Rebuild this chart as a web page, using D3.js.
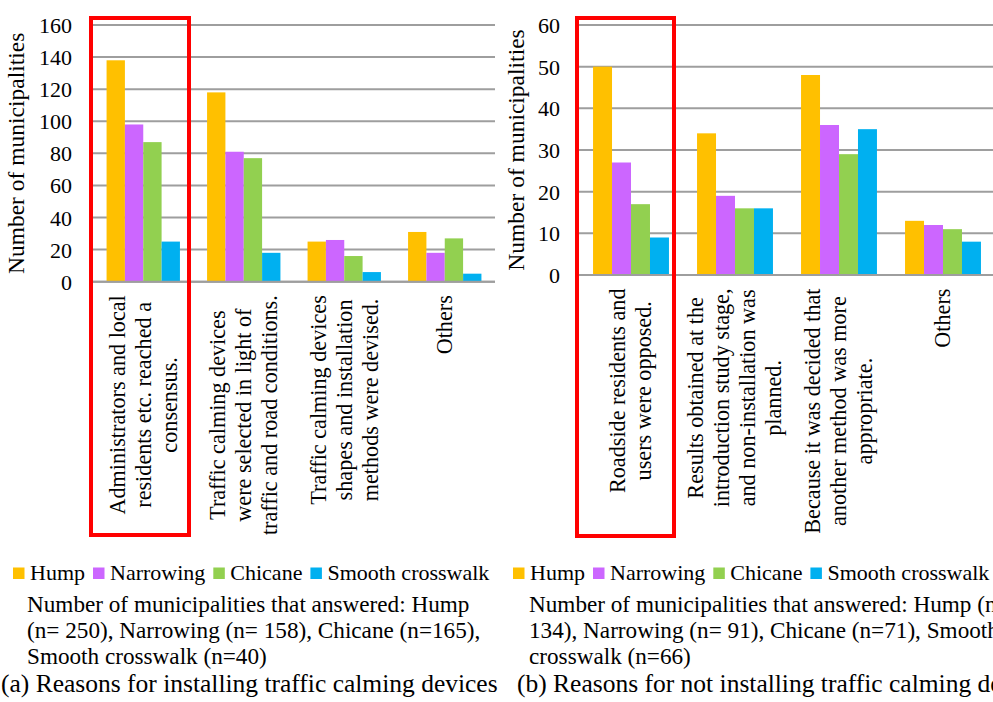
<!DOCTYPE html>
<html>
<head>
<meta charset="utf-8">
<script src="https://cdn.jsdelivr.net/npm/d3@7"></script>
<style>
  html, body { margin: 0; padding: 0; background: #fff; overflow: hidden; }
  svg { display: block; font-family: "Liberation Serif", "Times New Roman", serif; }
</style>
</head>
<body>
<svg id="chart" width="993" height="702"></svg>
<script>
// Device types (series) and their fill colours
const series = ["Hump", "Narrowing", "Chicane", "Smooth crosswalk"];
const seriesColors = ["#FFC000", "#CC66FF", "#92D050", "#00B0F0"];

// (a) Reasons for installing traffic calming devices
const categoriesA = [
  ["Administrators and local", "residents etc. reached a", "consensus."],
  ["Traffic calming devices", "were selected in light of", "traffic and road conditions."],
  ["Traffic calming devices", "shapes and installation", "methods were devised."],
  ["Others"]
];
const humpA      = [138, 118, 25, 31];
const narrowingA = [98, 81, 26, 18];
const chicaneA   = [87, 77, 16, 27];
const smoothA    = [25, 18, 6, 5];
const ticksA     = [0, 20, 40, 60, 80, 100, 120, 140, 160];
const notesA = [
  "Number of municipalities that answered: Hump",
  "(n= 250), Narrowing (n= 158), Chicane (n=165),",
  "Smooth crosswalk (n=40)"
];
const captionA = "(a) Reasons for installing traffic calming devices";

// (b) Reasons for not installing traffic calming devices
const categoriesB = [
  ["Roadside residents and", "users were opposed."],
  ["Results obtained at the", "introduction study stage,", "and non-installation was", "planned."],
  ["Because it was decided that", "another method was more", "appropriate."],
  ["Others"]
];
const humpB      = [50, 34, 48, 13];
const narrowingB = [27, 19, 36, 12];
const chicaneB   = [17, 16, 29, 11];
const smoothB    = [9, 16, 35, 8];
const ticksB     = [0, 10, 20, 30, 40, 50, 60];
const notesB = [
  "Number of municipalities that answered: Hump (n= 134),",
  "134), Narrowing (n= 91), Chicane (n=71), Smooth",
  "crosswalk (n=66)"
];
notesB[0] = "Number of municipalities that answered: Hump (n=";
const captionB = "(b) Reasons for not installing traffic calming devices";

const axisTitle = "Number of municipalities";

const svg = d3.select("#chart");

function drawPanel(cfg) {
  const g = svg.append("g");
  const cats = cfg.categories.map((_, i) => i);

  const x0 = d3.scaleBand().domain(cats).range([cfg.left, cfg.right]);
  const bw = x0.bandwidth();
  const pad = bw * 0.135;
  const x1 = d3.scaleBand().domain(series).range([pad, bw - pad]);
  const y = d3.scaleLinear().domain([0, cfg.ticks[cfg.ticks.length - 1]]).range([cfg.bottom, cfg.top]);

  // horizontal gridlines (the zero line doubles as the category axis)
  g.append("g").selectAll("line").data(cfg.ticks).join("line")
    .attr("x1", cfg.left).attr("x2", cfg.right)
    .attr("y1", d => y(d)).attr("y2", d => y(d))
    .attr("stroke", "#9e9e9e").attr("stroke-width", 2);

  // value axis labels
  const yAxis = d3.axisLeft(y).tickValues(cfg.ticks).tickSize(0).tickPadding(0).tickFormat(d3.format("d"));
  const ya = g.append("g").attr("transform", `translate(${cfg.tickX},0)`).call(yAxis);
  ya.select(".domain").remove();
  ya.selectAll("text").attr("font-size", 22).attr("fill", "#000")
    .attr("font-family", "Liberation Serif, Times New Roman, serif").attr("dy", "0.34em");

  // axis title
  g.append("text")
    .attr("transform", `translate(${cfg.titleX},${(cfg.top + cfg.bottom) / 2}) rotate(-90)`)
    .attr("text-anchor", "middle").attr("font-size", 23.5).attr("fill", "#000")
    .text(axisTitle);

  // bars
  const rows = cats.map(i => series.map((s, k) => ({ cat: i, s, k, v: cfg.values[k][i] })));
  g.append("g").selectAll("g").data(rows).join("g")
    .attr("transform", (d, i) => `translate(${x0(i)},0)`)
    .selectAll("rect").data(d => d).join("rect")
    .attr("x", d => x1(d.s))
    .attr("width", x1.bandwidth())
    .attr("y", d => y(d.v))
    .attr("height", d => y(0) - y(d.v))
    .attr("fill", d => seriesColors[d.k]);

  // re-draw zero line above bar bottoms
  g.append("line").attr("x1", cfg.left).attr("x2", cfg.right)
    .attr("y1", y(0)).attr("y2", y(0)).attr("stroke", "#9e9e9e").attr("stroke-width", 2);

  // rotated multi-line category labels, top aligned, lines centred
  const lineH = 26;
  const labelTop = y(0) + 13.5;
  cfg.categories.forEach((lines, i) => {
    const cx = x0(i) + bw / 2;
    const lg = g.append("g").attr("transform", `translate(${cx},${labelTop}) rotate(-90)`);
    const texts = lg.selectAll("text").data(lines).join("text")
      .attr("font-size", 22.2).attr("fill", "#000").attr("text-anchor", "middle")
      .attr("y", (d, j) => (j - (lines.length - 1) / 2) * lineH)
      .attr("dy", "0.33em")
      .text(d => d);
    let maxLen = 0;
    texts.each(function () { maxLen = Math.max(maxLen, this.getComputedTextLength()); });
    texts.attr("x", -maxLen / 2);
  });

  // highlight box around the first category
  g.append("rect")
    .attr("x", x0(0) - 2).attr("y", 18)
    .attr("width", cfg.boxW).attr("height", cfg.boxBottom - 18)
    .attr("fill", "none").attr("stroke", "#FF0000").attr("stroke-width", 4);

  // legend
  const lg = g.append("g");
  let lx = cfg.legendX;
  series.forEach((s, k) => {
    lg.append("rect").attr("x", lx).attr("y", 567.5).attr("width", 11.5).attr("height", 11.5)
      .attr("fill", seriesColors[k]);
    const t = lg.append("text").attr("x", lx + 17).attr("y", 580).attr("font-size", 22)
      .attr("fill", "#000").text(s);
    lx += 17 + t.node().getComputedTextLength() + 8;
  });

  // respondent counts
  g.append("g").selectAll("text").data(cfg.notes).join("text")
    .attr("x", cfg.notesX).attr("y", (d, j) => 612 + j * 25.8)
    .attr("font-size", 23.2).attr("fill", "#000").text(d => d);

  // caption
  g.append("text").attr("x", cfg.captionX).attr("y", 692)
    .attr("font-size", 25.5).attr("fill", "#000").text(cfg.caption);
}

drawPanel({
  categories: categoriesA,
  values: [humpA, narrowingA, chicaneA, smoothA],
  ticks: ticksA,
  left: 93, right: 495, top: 25, bottom: 281.7,
  tickX: 72, titleX: 24,
  boxW: 98, boxBottom: 535,
  legendX: 13, notesX: 27, notes: notesA,
  captionX: 1, caption: captionA
});

drawPanel({
  categories: categoriesB,
  values: [humpB, narrowingB, chicaneB, smoothB],
  ticks: ticksB,
  left: 579, right: 995, top: 25, bottom: 275,
  tickX: 560, titleX: 524,
  boxW: 97, boxBottom: 536,
  legendX: 513, notesX: 529, notes: notesB,
  captionX: 517, caption: captionB
});
</script>
</body>
</html>
